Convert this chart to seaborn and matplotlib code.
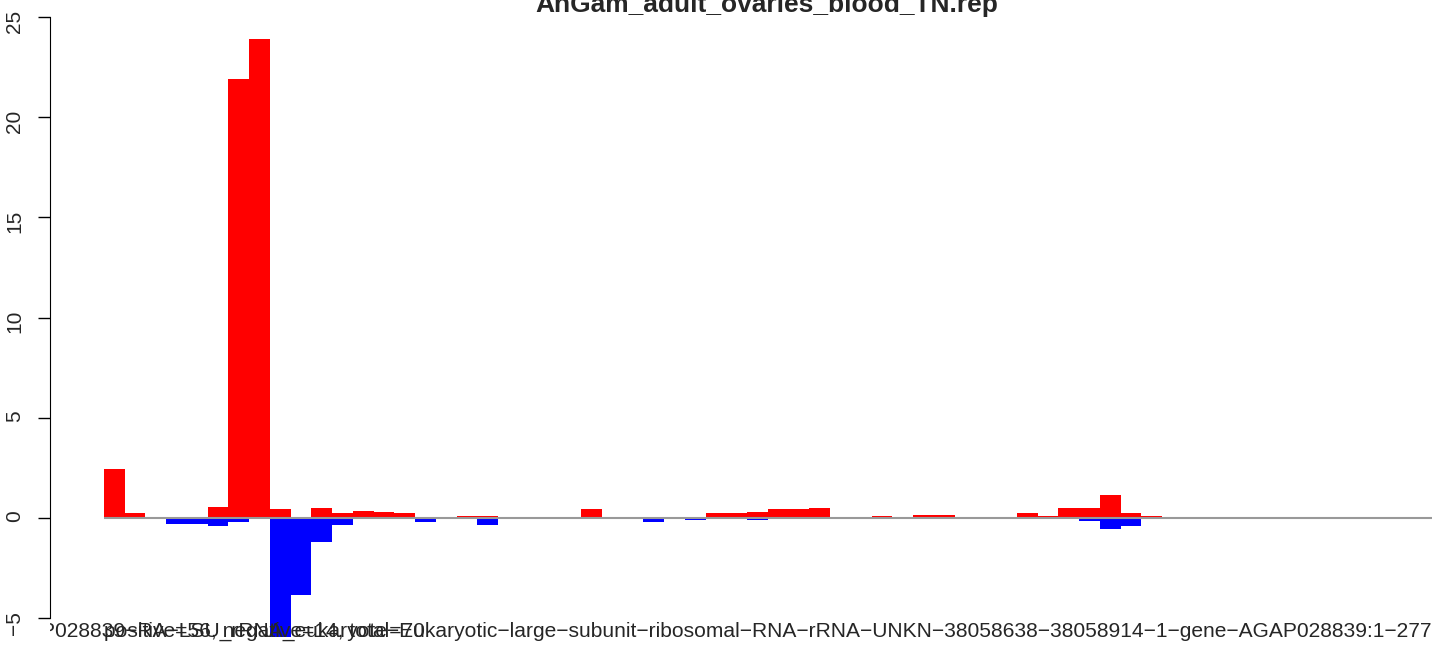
"""
Strand coverage barplot for one rRNA feature (positive strand red, negative strand blue)
"""

import matplotlib
matplotlib.use('Agg')
import matplotlib.pyplot as plt
import matplotlib.transforms as mtransforms
import pandas as pd
import seaborn as sns

# Labels
title = 'AnGam_adult_ovaries_blood_TN.rep'
feature = ('rna-AGAP028839-RA-LSU_rRNA_eukaryote-Eukaryotic-large-subunit-ribosomal-'
           'RNA-rRNA-UNKN-38058638-38058914-1-gene-AGAP028839:1-277')
counts_note = 'positive=56, negative=14, total=70'

# Coverage per bin (64 bins)
positive = [2.45, 0.25, 0, 0, 0, 0.53, 21.9, 23.9, 0.45, 0,
            0.52, 0.25, 0.33, 0.28, 0.23, 0, 0, 0.08, 0.08, 0,
            0, 0, 0, 0.43, 0, 0, 0, 0, 0, 0.23,
            0.23, 0.28, 0.43, 0.43, 0.48, 0, 0, 0.08, 0, 0.13,
            0.13, 0, 0, 0, 0.23, 0.08, 0.48, 0.48, 1.13, 0.23,
            0.08, 0, 0, 0, 0, 0, 0, 0, 0, 0,
            0, 0, 0, 0]
negative = [0, 0, 0, -0.3, -0.3, -0.4, -0.2, 0, -5.94, -3.83,
            -1.21, -0.37, 0, 0, 0, -0.22, 0, 0, -0.37, 0,
            0, 0, 0, 0, 0, 0, -0.22, 0, -0.12, 0,
            0, -0.12, 0, 0, 0, 0, 0, 0, 0, 0,
            0, 0, 0, 0, 0, 0, 0, -0.15, -0.55, -0.4,
            0, 0, 0, 0, 0, 0, 0, 0, 0, 0,
            0, 0, 0, 0]
yticks = [-5, 0, 5, 10, 15, 20, 25]

df = pd.DataFrame({'bin': range(len(positive)), 'plus': positive, 'minus': negative})

sns.set_style('white')
plt.rcParams['font.family'] = ['Liberation Sans', 'DejaVu Sans']

fig = plt.figure(figsize=(14.44, 6.48), dpi=100)
ax = fig.add_axes([50 / 1444, 0, 1394 / 1444, 1])
ax.patch.set_alpha(0)

sns.barplot(data=df, x='bin', y='plus', color='#FF0000', width=1, saturation=1,
            linewidth=0, errorbar=None, ax=ax, zorder=2)
sns.barplot(data=df, x='bin', y='minus', color='#0000FF', width=1, saturation=1,
            linewidth=0, errorbar=None, ax=ax, zorder=2)

n = len(positive)
ax.hlines(0, -0.5, n - 0.5, color='#999999', linewidth=1.5, zorder=3)

ax.set_xlim(-3.10, 64.08)
ax.set_ylim(-6.49, 25.85)

# axis styling, R-like
for side in ['top', 'right', 'bottom']:
    ax.spines[side].set_visible(False)
ax.spines['left'].set_bounds(-5, 25)
ax.spines['left'].set_color('black')
ax.set_xticks([])
ax.set_yticks(yticks)
ax.tick_params(axis='y', length=8.6, width=1, color='black', labelsize=15,
               labelrotation=90, pad=10, left=True)
ax.set_xlabel('')
ax.set_ylabel('')

# bottom labels (overlapping, clipped on the left as in the original)
trans = mtransforms.blended_transform_factory(ax.transData, fig.transFigure)
ax.text(n - 0.5, 11 / 648, feature.replace('-', '\u2212'), transform=trans,
        ha='right', va='baseline', fontsize=15.1, clip_on=True, zorder=4)
ax.text(-0.5, 11 / 648, counts_note, transform=trans,
        ha='left', va='baseline', fontsize=15.1, clip_on=True, zorder=4)

fig.text(767 / 1444, 1 - 12 / 648, title, ha='center', va='baseline',
         fontsize=19, fontweight='bold')

fig.savefig('out.png', dpi=100)
